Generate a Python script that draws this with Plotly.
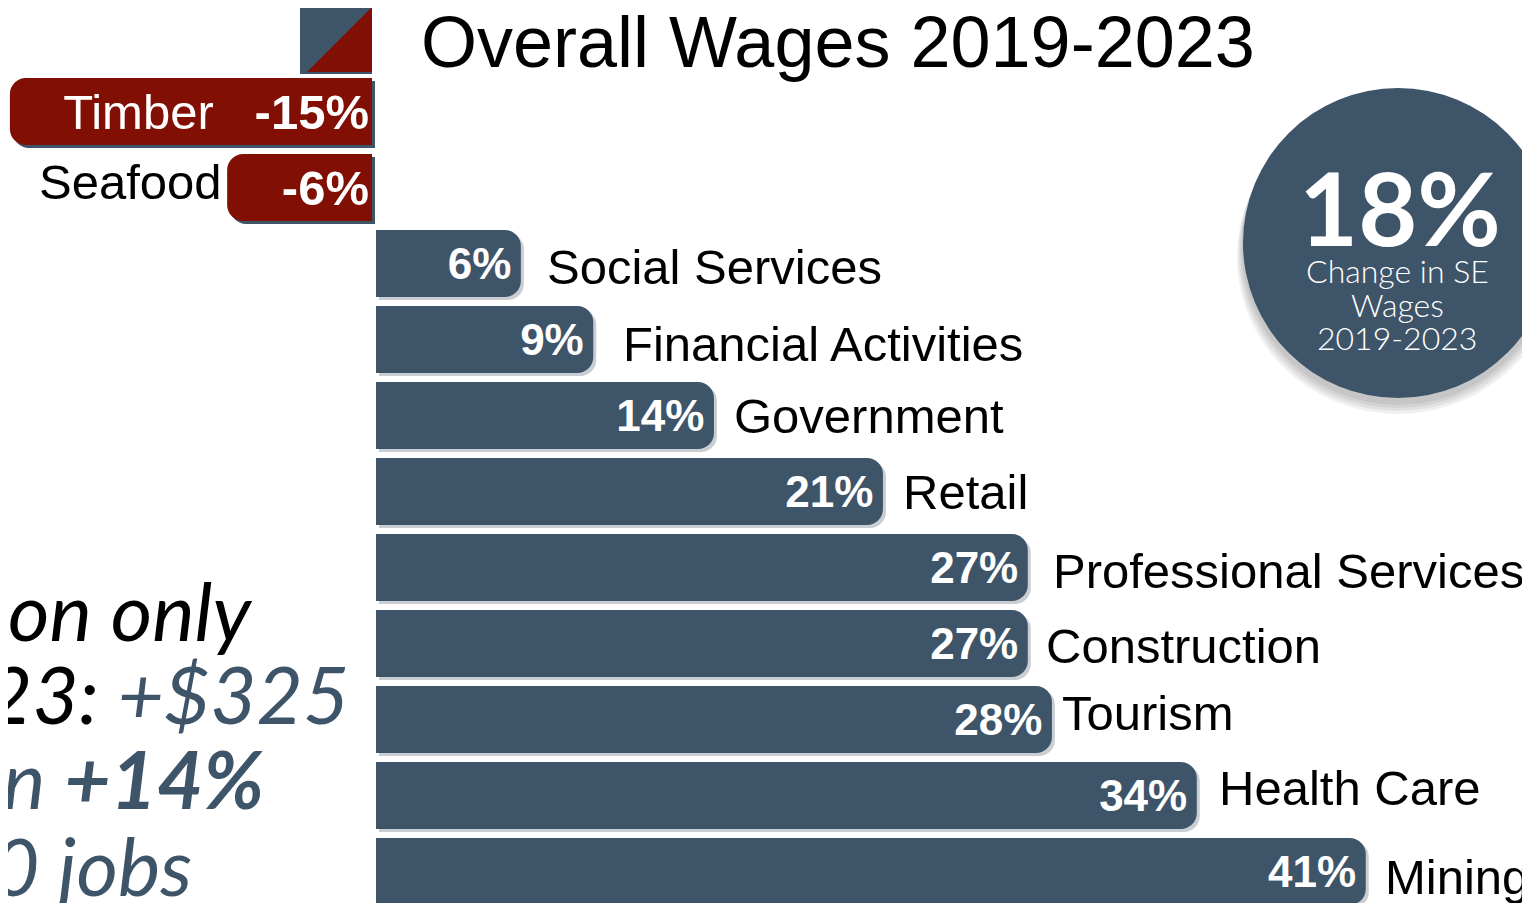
import plotly.graph_objects as go

W, H = 1530, 903
# the page puts the figure 8px in from the top-left corner
OX, OY = 8, 8

# data
sectors = ["Timber", "Seafood", "Social Services", "Financial Activities", "Government",
           "Retail", "Professional Services", "Construction", "Tourism", "Health Care", "Mining"]
wage_change = [-15, -6, 6, 9, 14, 21, 27, 27, 28, 34, 41]
overall_change = "18%"
overall_note = ["Change in SE", "Wages", "2019-2023"]
title = "Overall Wages 2019-2023"

SLATE = "#3e5468"
RED = "#820f04"
LABEL_FONT = "Liberation Sans"
ROUND_FONT = "Lato"


def px(x):
    return (x - OX) / W


def py(y):
    return 1 - (y - OY) / H


neg = [(s, v) for s, v in zip(sectors, wage_change) if v < 0]
pos = [(s, v) for s, v in zip(sectors, wage_change) if v >= 0]

k = 24.14          # pixels per percent
zero_px = 376 - OX
pitch = 76.0
row0_px = 111.5 - OY
xr = [-zero_px / k, (W - zero_px) / k]
yr = [(H - row0_px) / pitch, -row0_px / pitch]
bw = 0.88


def shifted(r, d):
    return [r[0] + d, r[1] + d]


fig = go.Figure()

# soft shadows, on under axes shifted a few pixels right/down
fig.add_trace(go.Bar(
    y=[s for s, _ in neg], x=[v for _, v in neg], orientation="h",
    width=bw, marker=dict(color=SLATE, cornerradius=16, line=dict(width=0)),
    hoverinfo="skip", showlegend=False, xaxis="x", yaxis="y",
))
fig.add_trace(go.Bar(
    y=[s for s, _ in pos], x=[v for _, v in pos], orientation="h",
    width=bw, marker=dict(color="#c9ced3", cornerradius=16, line=dict(width=0)),
    hoverinfo="skip", showlegend=False, xaxis="x2", yaxis="y",
))

neg_text = []
for s, v in neg:
    if s == "Timber":
        neg_text.append(f"{s}   <b>{v}%</b>")
    else:
        neg_text.append(f"<b>{v}%</b>")

fig.add_trace(go.Bar(
    y=[s for s, _ in neg], x=[v for _, v in neg], orientation="h",
    width=bw, marker=dict(color=RED, cornerradius=16, line=dict(width=0)),
    text=neg_text, textposition="inside", insidetextanchor="start",
    constraintext="none", textangle=0,
    insidetextfont=dict(family=LABEL_FONT, size=49, color="white"),
    hoverinfo="skip", showlegend=False, xaxis="x3", yaxis="y2",
))

pad = "<span style='font-size:16px'> </span>"
fig.add_trace(go.Bar(
    y=[s for s, _ in pos], x=[v for _, v in pos], orientation="h",
    width=bw, marker=dict(color=SLATE, cornerradius=16, line=dict(width=0)),
    text=[f"<b>{v}%</b>{pad}" for _, v in pos], textposition="inside", insidetextanchor="end",
    constraintext="none", textangle=0,
    insidetextfont=dict(family=LABEL_FONT, size=44, color="white"),
    hoverinfo="skip", showlegend=False, xaxis="x4", yaxis="y2",
))

# sector names next to the bars
name_shift = {"Social Services": (24, -3), "Financial Activities": (28, -4), "Government": (18, 0),
              "Retail": (18, 0), "Professional Services": (23, -3), "Construction": (16, -2),
              "Tourism": (8, 7), "Health Care": (20, 8), "Mining": (17, -5)}
annotations = []
for s, v in pos:
    dx, dy = name_shift.get(s, (18, 0))
    annotations.append(dict(
        x=v, y=s, xref="x4", yref="y2", text=s, showarrow=False,
        xanchor="left", yanchor="middle", xshift=dx, yshift=dy,
        font=dict(family=LABEL_FONT, size=49, color="black"),
    ))
annotations.append(dict(
    x=-6, y="Seafood", xref="x3", yref="y2", text="Seafood", showarrow=False,
    xanchor="right", yanchor="middle", xshift=-3, yshift=6,
    font=dict(family=LABEL_FONT, size=49, color="black"),
))

# title
annotations.append(dict(
    x=px(419), y=py(42), xref="paper", yref="paper", text=title, showarrow=False,
    xanchor="left", yanchor="middle", font=dict(family=LABEL_FONT, size=72, color="black"),
))

# circle callout text
annotations.append(dict(
    x=px(1400), y=py(206), xref="paper", yref="paper", text=f"<b>{overall_change}</b>",
    showarrow=False, xanchor="center", yanchor="middle",
    font=dict(family=ROUND_FONT, size=102, color="white", weight=900),
))
for line, yc in zip(overall_note, [270, 304, 338]):
    annotations.append(dict(
        x=px(1397), y=py(yc), xref="paper", yref="paper", text=line, showarrow=False,
        xanchor="center", yanchor="middle",
        font=dict(family=ROUND_FONT, size=32, color="white", weight=300),
    ))

# cut-off side text from neighbouring panel
side = [
    ("<i>on only</i>", 255, 610),
    (f"<i>23: <span style='color:{SLATE}'>+$325</span></i>", 351, 693),
    (f"<span style='color:{SLATE}'><i>n </i><b><i>+14%</i></b></span>", 266, 778),
    (f"<span style='color:{SLATE}'><i>0 jobs</i></span>", 194, 865),
]
for txt, xr_px, yc in side:
    annotations.append(dict(
        x=px(xr_px), y=py(yc), xref="paper", yref="paper", text=txt, showarrow=False,
        xanchor="right", yanchor="middle", font=dict(family=ROUND_FONT, size=80, color="black"),
    ))

shapes = []
# circle shadow
for i in range(4):
    d = 3 + i * 3
    shapes.append(dict(type="circle", xref="paper", yref="paper",
                       x0=px(1243 - d / 2), x1=px(1553 + d / 2), y0=py(398 + d + 4), y1=py(88 + d),
                       fillcolor="black", opacity=0.06, line=dict(width=0), layer="below"))
shapes.append(dict(type="circle", xref="paper", yref="paper",
                   x0=px(1243), x1=px(1553), y0=py(398), y1=py(88),
                   fillcolor=SLATE, line=dict(width=0)))
# split-square legend icon
shapes.append(dict(type="rect", xref="paper", yref="paper",
                   x0=px(300), x1=px(372), y0=py(74), y1=py(5),
                   fillcolor=SLATE, line=dict(width=0)))
shapes.append(dict(type="path", xref="paper", yref="paper",
                   path=f"M {px(372)},{py(7)} L {px(372)},{py(72)} L {px(307)},{py(72)} Z",
                   fillcolor=RED, line=dict(width=0)))

neg_dx = 4 / k       # red bars sit a few pixels left of zero
sh_x = 3 / k
sh_y = 3 / pitch
fig.update_layout(
    width=W, height=H,
    margin=dict(l=0, r=0, t=0, b=0),
    paper_bgcolor="white", plot_bgcolor="white",
    barmode="overlay",
    xaxis=dict(range=shifted(xr, neg_dx - sh_x), visible=False, fixedrange=True),
    xaxis2=dict(range=shifted(xr, -sh_x), visible=False, overlaying="x", fixedrange=True),
    xaxis3=dict(range=shifted(xr, neg_dx), visible=False, overlaying="x", fixedrange=True),
    xaxis4=dict(range=xr, visible=False, overlaying="x", fixedrange=True),
    yaxis=dict(range=shifted(yr, -sh_y), visible=False, type="category",
               categoryorder="array", categoryarray=sectors, fixedrange=True),
    yaxis2=dict(range=yr, visible=False, overlaying="y", type="category",
                categoryorder="array", categoryarray=sectors, fixedrange=True),
    annotations=annotations,
    shapes=shapes,
)

fig.write_html("out.html")
